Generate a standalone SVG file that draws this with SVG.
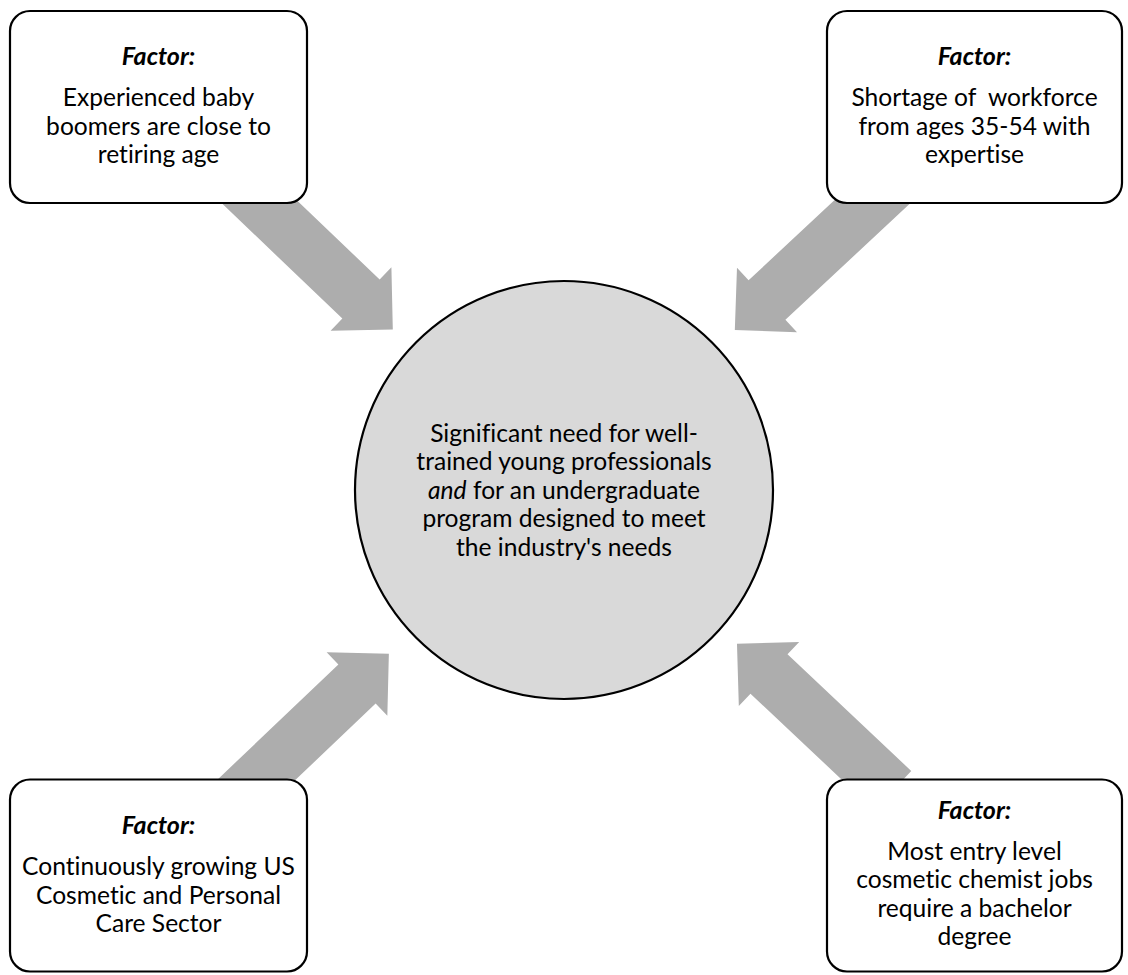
<svg xmlns="http://www.w3.org/2000/svg" width="1128" height="975" viewBox="0 0 1128 975">
<style>
.box{fill:#ffffff;stroke:#000000;stroke-width:2.2}
.hub{fill:#d9d9d9;stroke:#000000;stroke-width:2.2}
.arr{fill:#adadad;stroke:none}
text{font-family:Lato,"Liberation Sans",sans-serif;font-size:24.6px;fill:#000000;text-anchor:middle;font-variant-ligatures:none}
.hd{font-weight:bold;font-style:italic;font-size:25px}
</style>
<defs>
<polygon id="blk" points="-170,-27 0,-27 0,-44 44,0 0,44 0,27 -170,27"/>
</defs>
<rect width="1128" height="975" fill="#ffffff"/>
<g id="connectors">
<use href="#blk" class="arr" transform="translate(361,299) rotate(43.7)"/>
<use href="#blk" class="arr" transform="translate(767,300) rotate(137)"/>
<use href="#blk" class="arr" transform="translate(357,684) rotate(-43.6)"/>
<use href="#blk" class="arr" transform="translate(769,674) rotate(-136.7)"/>
</g>
<g id="hub">
<circle class="hub" cx="564" cy="490" r="209"/>
<text x="564" y="441.5">Significant need for well-</text>
<text x="564" y="470">trained young professionals</text>
<text x="564" y="498.5"><tspan font-style="italic">and</tspan> for an undergraduate</text>
<text x="564" y="527">program designed to meet</text>
<text x="564" y="555.5">the industry's needs</text>
</g>
<g id="factor-tl">
<rect class="box" x="10" y="11" width="297" height="192" rx="20"/>
<text class="hd" x="158.5" y="65">Factor:</text>
<text x="158.5" y="106">Experienced baby</text>
<text x="158.5" y="134.5">boomers are close to</text>
<text x="158.5" y="163">retiring age</text>
</g>
<g id="factor-tr">
<rect class="box" x="827" y="11" width="295" height="192" rx="20"/>
<text class="hd" x="974.5" y="65">Factor:</text>
<text x="974.5" y="106" xml:space="preserve">Shortage of  workforce</text>
<text x="974.5" y="134.5">from ages 35-54 with</text>
<text x="974.5" y="163">expertise</text>
</g>
<g id="factor-bl">
<rect class="box" x="10" y="779.5" width="297" height="192" rx="20"/>
<text class="hd" x="158.5" y="833.5">Factor:</text>
<text x="158.5" y="875">Continuously growing US</text>
<text x="158.5" y="903.5">Cosmetic and Personal</text>
<text x="158.5" y="932">Care Sector</text>
</g>
<g id="factor-br">
<rect class="box" x="827" y="779.5" width="295" height="192" rx="20"/>
<text class="hd" x="974.5" y="818.5">Factor:</text>
<text x="974.5" y="859.5">Most entry level</text>
<text x="974.5" y="888">cosmetic chemist jobs</text>
<text x="974.5" y="916.5">require a bachelor</text>
<text x="974.5" y="945">degree</text>
</g>
</svg>
